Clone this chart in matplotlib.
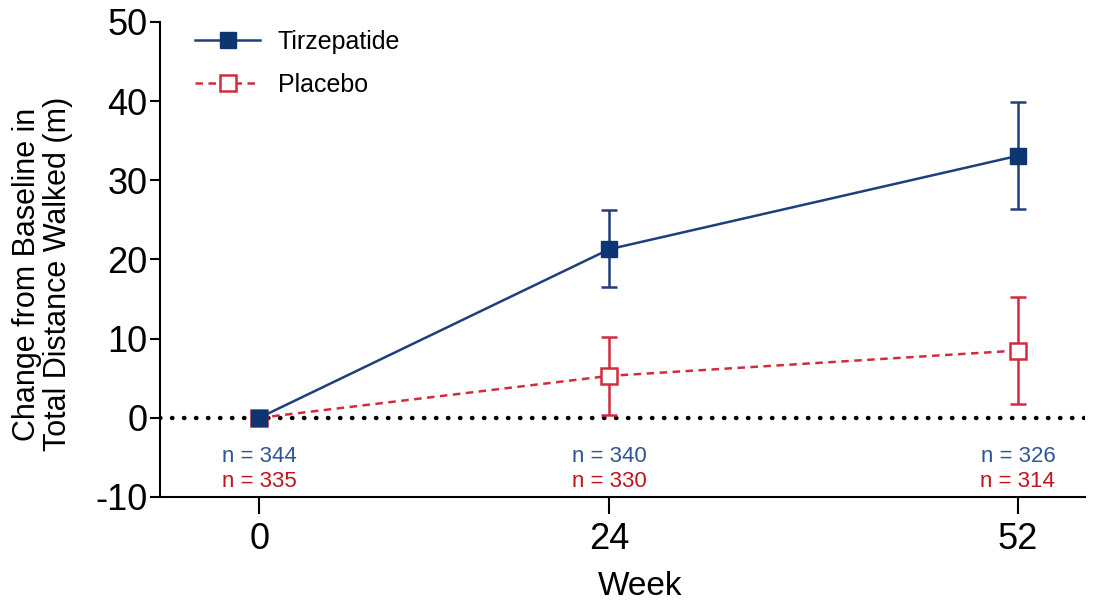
import numpy as np
import matplotlib.pyplot as plt

plt.rcParams['font.family'] = ['Liberation Sans', 'DejaVu Sans']
plt.rcParams['axes.unicode_minus'] = False

weeks = [0, 24, 52]
tirz = [0, 21.3, 33.1]
tirz_lo = [0, 16.5, 26.4]
tirz_hi = [0, 26.2, 39.9]
plac = [0, 5.3, 8.5]
plac_lo = [0, 0.4, 1.7]
plac_hi = [0, 10.2, 15.3]
n_tirz = [344, 340, 326]
n_plac = [335, 330, 314]

blue = '#1e3f7a'
blue_txt = '#2f5597'
red = '#d22b3c'
red_txt = '#c0141e'

fig = plt.figure(figsize=(11.02, 6.06), dpi=100)
ax = fig.add_axes([0.1452, 0.1799, 0.8394, 0.7838])

ax.axhline(0, color='black', ls=(0, (0.1, 2.6)), lw=3.2, dash_capstyle='round', zorder=1)

p = np.array(plac)
ax.errorbar(weeks[1:], plac[1:],
            yerr=[p[1:] - np.array(plac_lo[1:]), np.array(plac_hi[1:]) - p[1:]],
            fmt='none', ecolor=red, elinewidth=1.8, capsize=6, capthick=1.8, zorder=2)
ax.plot(weeks, plac, color=red, ls=(0, (3, 2.2)), lw=1.8, marker='s', ms=11,
        mfc='white', mec=red, mew=1.8, label='Placebo', zorder=3)

t = np.array(tirz)
ax.errorbar(weeks[1:], tirz[1:],
            yerr=[t[1:] - np.array(tirz_lo[1:]), np.array(tirz_hi[1:]) - t[1:]],
            fmt='none', ecolor=blue, elinewidth=1.8, capsize=6, capthick=1.8, zorder=4)
ax.plot(weeks, tirz, color=blue, lw=1.8, marker='s', ms=11,
        mfc='#0d3670', mec='#0d3670', label='Tirzepatide', zorder=5)

for w, a, b in zip(weeks, n_tirz, n_plac):
    ax.text(w, -4.9, f'n = {a}', color=blue_txt, fontsize=16, ha='center', va='center')
    ax.text(w, -8.0, f'n = {b}', color=red_txt, fontsize=16, ha='center', va='center')

ax.set_xlim(-6.8, 56.6)
ax.set_ylim(-10, 50)
ax.set_xticks(weeks)
ax.set_yticks(range(-10, 51, 10))
ax.tick_params(labelsize=26, width=1.5, length=7, direction='out', pad=2)
ax.tick_params(axis='x', length=12, pad=6)
ax.spines['top'].set_visible(False)
ax.spines['right'].set_visible(False)
ax.spines['left'].set_linewidth(1.5)
ax.spines['bottom'].set_linewidth(1.5)

ax.set_xlabel('Week', fontsize=24)
ax.xaxis.set_label_coords(0.519, -0.155)
ax.set_ylabel('Change from Baseline in\nTotal Distance Walked (m)', fontsize=22,
              linespacing=1.05)
ax.yaxis.set_label_coords(-0.094, 0.469)

handles, labels = ax.get_legend_handles_labels()
ax.legend(handles[::-1], labels[::-1], loc='upper left', bbox_to_anchor=(0.014, 1.03),
          frameon=False, fontsize=18, handlelength=2.6, labelspacing=0.75, handletextpad=0.7)

fig.savefig('out.png', dpi=100)
